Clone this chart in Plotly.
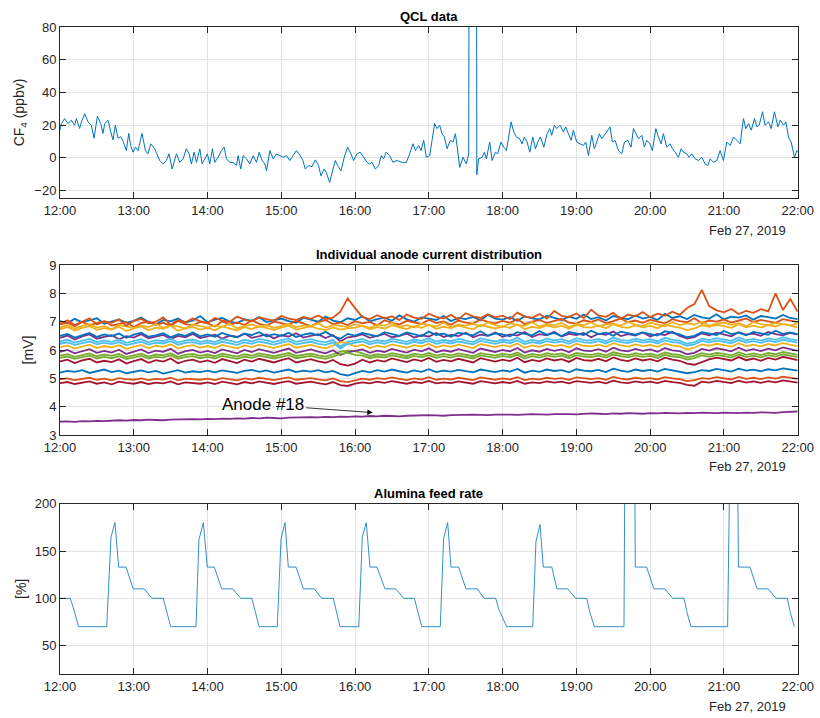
import pandas as pd
import plotly.graph_objects as go

# ---------------- data ----------------
T0 = pd.Timestamp("2019-02-27 12:00")

# QCL CF4 (minutes after 12:00, ppbv)
QCL_MIN = [0, 1.1, 3.8, 6.5, 9.2, 11.9, 13.3, 16.0, 17.4, 20.1, 22.8, 25.5, 27.7, 30.4, 33.1, 35.0, 36.4, 39.1, 41.2, 43.1,
           45.0, 47.2, 49.4, 51.5, 54.0, 55.9, 57.5, 59.4, 61.3, 63.5, 66.7, 69.5, 71.6, 73.8, 77.0, 79.2, 81.1, 83.8, 86.5, 88.7,
           91.2, 94.7, 97.4, 100.1, 102.8, 105.0, 106.9, 109.1, 111.0, 113.7, 115.6, 117.7, 119.9, 121.8, 124.0, 125.9, 128.6, 131.3, 133.5, 135.4,
           138.1, 140.8, 143.5, 144.9, 147.0, 149.0, 151.7, 154.4, 157.1, 159.8, 162.0, 164.4, 166.6, 168.0, 170.7, 173.4, 176.1, 178.8, 181.5, 184.2,
           186.9, 189.6, 192.3, 195.4, 197.6, 199.5, 202.2, 204.9, 207.6, 210.3, 212.2, 214.9, 216.6, 219.3, 221.2, 223.9, 225.8, 228.5, 231.2, 233.9,
           236.6, 238.8, 241.5, 244.2, 247.0, 249.7, 251.8, 253.7, 256.4, 259.2, 261.3, 263.2, 265.4, 268.1, 270.8, 274.1, 278.1, 281.7, 284.4, 287.1,
           289.0, 291.7, 293.6, 295.8, 298.0, 300.7, 302.6, 304.7, 306.6, 308.8, 310.7, 312.6, 314.8, 317.5, 319.7, 321.6, 322.9, 325.1, 327.8, 330.5,
           332.4, 333.2, 338.6, 339.0, 340.5, 343.3, 345.2, 346.8, 349.5, 351.4, 354.1, 356.0, 358.7, 360.9, 363.1, 365.0, 366.9, 369.0, 371.2, 373.9,
           375.8, 377.7, 379.9, 382.1, 384.5, 386.7, 388.6, 390.7, 393.5, 396.2, 398.3, 399.9, 402.1, 404.0, 406.7, 409.4, 411.3, 413.5, 415.7, 417.5,
           420.3, 423.0, 425.7, 427.6, 429.8, 432.5, 434.6, 436.5, 438.7, 440.6, 442.8, 444.7, 447.4, 449.3, 451.5, 454.2, 456.9, 459.1, 461.8, 464.5,
           466.4, 468.3, 470.5, 473.2, 475.3, 477.2, 479.9, 481.8, 484.6, 486.7, 488.9, 490.8, 493.5, 496.2, 498.1, 500.3, 503.0, 505.2, 507.1, 509.8,
           511.7, 513.9, 516.6, 519.3, 522.0, 524.7, 526.9, 528.8, 531.5, 534.2, 536.9, 539.6, 542.3, 545.1, 547.8, 550.5, 553.2, 555.9, 557.8, 560.0,
           562.2, 564.9, 566.8, 568.7, 571.4, 573.5, 576.3, 578.4, 581.1, 583.9, 585.8, 588.5, 590.4, 592.5, 594.7, 597.4, 599.3, 600]
QCL_PPBV = [17, 21, 24, 21, 23, 20, 24, 18, 22, 27, 22, 20, 12, 25.5, 21, 15, 21, 23, 16, 11,
            20, 12, 13, 10, 4.5, 15, 7.6, 3.5, 6.6, 4.5, 15, 4.5, 2.5, 8.6, 5.6, 1.4, -1.6, -3.7, -1.6, 2.5,
            -6.8, 2.5, -2.7, -0.6, 5.6, 2.5, -3.7, 3.5, -2.7, 5.6, -3.7, -0.6, 2.5, -3.7, 5.6, -2.7, 0.4, 4.5, 6.6, -0.6,
            -2.7, -2.7, -4.7, 1.4, -6.8, 1.4, -0.6, -3.7, 1.4, -2.7, 3.5, -1.6, -3.7, -7.8, 4.5, -0.6, 2.5, 1.4, 0.4, 1.4,
            -1.6, 1.4, 4.5, 1.4, -1.6, -6.8, -4.7, -5.4, -1.2, -4.7, -10.9, -6.8, -8.9, -15, -9.9, -1.6, -4.7, -7.8, 0.4, 6.6,
            2.5, -1.6, 2.5, 3.5, 0.4, -2.7, -3.7, -2.7, -6.8, -4.7, 1.4, -0.6, 3.5, 1.4, -2.7, -1.6, -2.7, -2.7, 2.5, 8.6,
            4.5, 7.6, 4.5, 10.7, 0.4, 1.4, 10.7, 21, 17.9, 20, 14.8, 12.8, 5.6, 10.7, 9.7, 14.8, 7.6, -5.8, 0.4, -3.7,
            2.5, 300, 300, -10.3, -0.6, 0.4, 3.5, -0.6, 9.7, -1.6, 3.5, 2.5, 9.7, 6.6, 4.5, 12.8, 22, 15.9, 12.8, 11.7,
            8.6, 12.8, 9.7, 3.5, 12.8, 5.6, 9.7, 12.8, 6.6, 14.8, 17.9, 13.8, 20, 17.9, 20, 15.9, 19, 14.8, 10.7, 16.9,
            9.7, 8.6, 7.6, 9.7, 1.4, 13.8, 5.6, 9.7, 14.8, 11.7, 13.8, 15.9, 19, 9.7, 10.7, 4.5, 2.5, 9.7, 10.7, 6.6,
            17.9, 14.8, 11.7, 13.8, 6.6, 10.7, 8.6, 4.5, 17.9, 12.8, 8.6, 14.8, 6.6, 8.6, 5.6, 3.5, 0.4, 5.6, 3.5, 2.5,
            0.4, 2.5, -0.6, -1.6, 0.4, -3.7, -4.7, -0.6, -2.7, -1.6, 4.5, -1.6, 9.7, 7.6, 12.8, 10.7, 8.6, 24, 17.9, 21,
            16.9, 24, 19, 20, 28.2, 20, 22, 17.9, 28.2, 19, 23, 20, 22, 12.8, 9.7, 0.4, 4.5, 3.5]

# Anode currents, hundredths of mV, one value every 6 minutes from 12:00
ANODE_01 = [702, 695, 710, 698, 705, 712, 693, 700, 708, 696, 703, 715, 699, 690, 706, 701, 711, 697, 704, 720,
            698, 707, 713, 700, 694, 709, 703, 716, 699, 705, 711, 702, 696, 714, 707, 700, 718, 704, 698, 712,
            706, 719, 701, 709, 714, 703, 722, 708, 700, 715, 711, 706, 720, 702, 713, 709, 717, 705, 724, 711,
            707, 716, 703, 719, 712, 708, 721, 714, 706, 718, 710, 725, 709, 716, 704, 720, 713, 708, 722, 711,
            717, 706, 728, 713, 719, 709, 724, 715, 711, 726, 708, 718, 714, 722, 707, 720, 716, 711, 724, 713, 709]
ANODE_02 = [690, 697, 684, 699, 688, 694, 702, 686, 693, 698, 681, 695, 700, 689, 696, 685, 703, 691, 687, 699,
            694, 683, 701, 690, 697, 688, 705, 692, 686, 700, 695, 689, 703, 693, 684, 698, 706, 691, 697, 688,
            702, 694, 699, 687, 705, 696, 690, 703, 698, 692, 707, 695, 701, 689, 704, 697, 693, 708, 699, 694,
            703, 696, 709, 691, 700, 706, 695, 702, 710, 697, 693, 705, 699, 708, 694, 702, 711, 698, 704, 696,
            707, 700, 694, 709, 702, 698, 712, 695, 704, 700, 708, 697, 703, 711, 699, 706, 701, 696, 709, 703, 698]
ANODE_03 = [680, 688, 676, 685, 691, 679, 684, 673, 689, 682, 677, 687, 681, 692, 678, 686, 683, 675, 690, 684,
            679, 687, 682, 693, 676, 685, 690, 681, 688, 678, 684, 692, 680, 687, 683, 694, 679, 688, 685, 681,
            691, 684, 678, 689, 686, 695, 682, 688, 680, 693, 687, 683, 696, 681, 690, 686, 692, 684, 697, 688,
            682, 694, 689, 685, 698, 683, 691, 687, 695, 680, 692, 688, 697, 684, 690, 693, 686, 699, 689, 685,
            696, 691, 684, 698, 688, 694, 690, 700, 686, 693, 697, 689, 695, 684, 699, 691, 688, 696, 692, 687, 694]
ANODE_04 = [643, 651, 637, 648, 655, 640, 646, 652, 638, 649, 644, 656, 641, 647, 653, 639, 650, 645, 657, 642,
            648, 654, 640, 651, 646, 658, 643, 649, 655, 641, 652, 647, 659, 644, 650, 656, 642, 653, 630, 645,
            648, 655, 643, 651, 657, 645, 650, 658, 644, 652, 647, 660, 646, 653, 649, 661, 645, 654, 650, 662,
            647, 655, 651, 663, 646, 656, 652, 664, 648, 657, 653, 660, 645, 658, 654, 665, 649, 656, 651, 662,
            648, 657, 653, 664, 650, 640, 645, 659, 652, 661, 655, 648, 663, 654, 658, 650, 664, 656, 652, 660, 655]
ANODE_05 = [580, 585, 576, 583, 588, 578, 584, 579, 586, 575, 582, 587, 577, 584, 581, 589, 576, 583, 586, 579,
            584, 578, 587, 582, 577, 585, 580, 588, 583, 578, 584, 590, 579, 583, 587, 581, 577, 585, 594, 598,
            596, 588, 579, 585, 581, 589, 584, 579, 587, 582, 590, 580, 586, 581, 588, 583, 578, 589, 585, 580,
            587, 582, 591, 578, 586, 581, 589, 584, 588, 579, 590, 585, 583, 588, 581, 592, 586, 582, 589, 584,
            587, 580, 591, 585, 583, 574, 579, 589, 584, 590, 586, 581, 592, 583, 588, 582, 590, 585, 593, 587, 583]
ANODE_06 = [630, 636, 626, 633, 639, 628, 634, 629, 637, 625, 632, 638, 627, 635, 631, 640, 626, 633, 637, 629,
            634, 628, 638, 632, 627, 636, 630, 639, 633, 628, 635, 641, 629, 634, 638, 631, 627, 636, 612, 630,
            633, 639, 628, 635, 630, 640, 634, 629, 637, 632, 642, 630, 636, 631, 639, 633, 628, 641, 635, 630,
            637, 632, 643, 629, 636, 631, 640, 634, 638, 630, 642, 635, 633, 639, 631, 644, 636, 632, 640, 634,
            638, 631, 643, 636, 633, 622, 628, 640, 635, 642, 637, 632, 644, 634, 639, 633, 641, 636, 645, 638, 634]
ANODE_07 = [560, 566, 554, 563, 569, 556, 562, 557, 567, 552, 561, 568, 555, 564, 559, 570, 553, 562, 566, 557,
            563, 555, 568, 561, 554, 566, 559, 569, 562, 556, 564, 571, 556, 563, 568, 560, 555, 565, 550, 545,
            552, 566, 556, 564, 559, 570, 563, 557, 567, 561, 572, 558, 565, 560, 569, 562, 556, 571, 564, 559,
            566, 561, 573, 557, 565, 560, 570, 563, 568, 558, 572, 564, 562, 569, 560, 574, 565, 561, 570, 563,
            568, 560, 573, 566, 562, 552, 548, 558, 567, 573, 569, 563, 575, 564, 570, 562, 572, 566, 576, 569, 564]
ANODE_08 = [520, 526, 523, 529, 519, 525, 531, 522, 527, 518, 524, 528, 521, 526, 517, 523, 529, 520, 525, 522,
            527, 521, 528, 524, 519, 526, 530, 523, 528, 520, 525, 531, 522, 527, 524, 529, 521, 526, 515, 510,
            518, 526, 521, 529, 524, 531, 525, 520, 528, 523, 532, 522, 527, 524, 530, 525, 521, 531, 526, 522,
            528, 524, 533, 520, 527, 523, 531, 526, 529, 521, 532, 527, 525, 530, 522, 534, 527, 523, 531, 526,
            530, 524, 533, 528, 525, 518, 522, 529, 526, 533, 529, 524, 534, 527, 531, 525, 532, 528, 535, 530, 527]
ANODE_09 = [496, 500, 494, 498, 502, 495, 499, 493, 501, 497, 495, 500, 494, 498, 496, 502, 493, 499, 497, 495,
            499, 494, 501, 497, 493, 500, 496, 502, 498, 494, 499, 503, 495, 498, 501, 496, 493, 500, 490, 487,
            494, 499, 495, 501, 497, 503, 498, 494, 500, 496, 504, 495, 499, 496, 502, 497, 494, 503, 499, 495,
            500, 496, 504, 494, 499, 496, 502, 498, 501, 495, 503, 499, 497, 501, 495, 505, 499, 496, 502, 498,
            501, 496, 504, 500, 497, 490, 494, 501, 498, 504, 500, 496, 505, 498, 502, 497, 503, 499, 506, 501, 498]
ANODE_10 = [610, 616, 605, 613, 619, 607, 614, 609, 617, 604, 612, 618, 606, 615, 611, 620, 605, 613, 617, 608,
            614, 607, 618, 612, 606, 616, 610, 619, 613, 607, 615, 621, 608, 614, 618, 611, 606, 616, 628, 625,
            612, 619, 607, 615, 610, 620, 614, 608, 617, 612, 622, 609, 616, 611, 619, 613, 607, 621, 615, 610,
            617, 612, 623, 608, 616, 611, 620, 614, 618, 609, 622, 615, 613, 619, 611, 624, 616, 612, 620, 614,
            618, 611, 623, 616, 613, 602, 608, 620, 615, 622, 617, 612, 624, 614, 619, 613, 621, 616, 625, 618, 614]
ANODE_11 = [593, 600, 588, 596, 603, 590, 597, 591, 601, 586, 595, 602, 589, 598, 594, 604, 587, 596, 600, 591,
            597, 589, 602, 595, 588, 600, 593, 603, 596, 590, 598, 605, 590, 597, 602, 594, 588, 599, 582, 592,
            596, 602, 590, 598, 593, 604, 597, 591, 601, 595, 606, 592, 599, 594, 603, 596, 590, 605, 598, 593,
            600, 595, 607, 591, 599, 594, 604, 597, 602, 592, 606, 598, 596, 603, 594, 608, 599, 595, 604, 597,
            602, 594, 607, 599, 596, 585, 590, 604, 598, 606, 601, 595, 608, 597, 603, 596, 605, 599, 609, 602, 597]
ANODE_12 = [572, 577, 569, 575, 580, 570, 576, 571, 578, 568, 574, 579, 570, 576, 573, 581, 569, 575, 578, 571,
            576, 570, 579, 574, 569, 577, 572, 580, 575, 570, 576, 582, 571, 575, 579, 573, 569, 577, 586, 590,
            583, 580, 571, 577, 573, 581, 576, 571, 579, 574, 582, 572, 578, 573, 580, 575, 570, 581, 577, 572,
            579, 574, 583, 570, 578, 573, 581, 576, 580, 571, 582, 577, 575, 580, 573, 584, 578, 574, 581, 576,
            579, 572, 583, 577, 575, 566, 571, 581, 576, 582, 578, 573, 584, 575, 580, 574, 582, 577, 585, 579, 575]
ANODE_13 = [622, 627, 618, 625, 630, 620, 626, 621, 628, 617, 624, 629, 619, 626, 623, 631, 618, 625, 628, 621,
            626, 620, 629, 623, 618, 627, 622, 630, 624, 619, 626, 632, 620, 625, 629, 622, 618, 627, 605, 622,
            625, 630, 620, 627, 622, 631, 626, 621, 629, 624, 633, 622, 628, 623, 630, 625, 620, 632, 627, 622,
            629, 624, 634, 621, 628, 623, 631, 626, 630, 622, 633, 627, 625, 631, 623, 635, 628, 624, 632, 626,
            630, 623, 634, 628, 625, 615, 620, 632, 627, 633, 629, 624, 635, 626, 631, 625, 633, 628, 636, 630, 626]
ANODE_14 = [483, 487, 480, 485, 489, 481, 486, 479, 488, 484, 481, 487, 480, 485, 482, 489, 479, 486, 483, 481,
            486, 480, 488, 484, 479, 487, 482, 489, 485, 480, 486, 490, 481, 485, 488, 483, 479, 487, 476, 473,
            481, 486, 482, 488, 484, 490, 485, 481, 487, 483, 491, 482, 486, 483, 489, 484, 481, 490, 486, 482,
            487, 483, 491, 481, 486, 483, 489, 485, 488, 482, 490, 486, 484, 488, 482, 492, 486, 483, 489, 485,
            488, 483, 491, 487, 484, 477, 474, 488, 485, 491, 487, 483, 492, 485, 489, 484, 490, 486, 493, 488, 485]
ANODE_15 = [650, 657, 644, 653, 660, 646, 655, 649, 658, 643, 654, 661, 647, 652, 659, 645, 656, 650, 662, 648,
            655, 647, 660, 651, 645, 658, 653, 663, 648, 656, 650, 661, 646, 654, 659, 652, 664, 649, 640, 657,
            651, 660, 654, 648, 663, 657, 650, 662, 655, 649, 665, 653, 658, 647, 661, 656, 652, 666, 650, 659,
            655, 648, 663, 657, 652, 667, 654, 660, 649, 664, 658, 653, 668, 656, 661, 650, 665, 659, 654, 662,
            657, 651, 666, 660, 655, 645, 650, 663, 658, 653, 667, 656, 661, 652, 664, 659, 654, 668, 657, 662, 655]
ANODE_16 = [693, 705, 688, 699, 712, 690, 701, 696, 708, 685, 703, 710, 694, 700, 715, 689, 706, 698, 711, 702,
            696, 713, 704, 699, 718, 707, 701, 715, 709, 703, 720, 711, 706, 717, 710, 722, 708, 714, 735, 782,
            748, 716, 709, 723, 712, 719, 706, 725, 714, 710, 728, 717, 711, 724, 708, 730, 719, 713, 726, 715,
            721, 709, 732, 718, 714, 727, 711, 738, 720, 716, 729, 713, 742, 722, 717, 731, 710, 725, 719, 734,
            716, 728, 721, 735, 724, 748, 762, 812, 755, 740, 733, 745, 727, 738, 731, 744, 736, 800, 741, 780, 735]
ANODE_17 = [674, 681, 669, 678, 684, 671, 677, 672, 682, 667, 676, 683, 670, 679, 675, 685, 668, 677, 681, 672,
            678, 670, 683, 676, 669, 681, 674, 684, 677, 671, 679, 686, 672, 678, 683, 675, 670, 680, 672, 676,
            679, 685, 673, 681, 676, 687, 680, 674, 684, 678, 689, 675, 682, 677, 686, 679, 673, 688, 681, 676,
            683, 678, 690, 674, 682, 677, 687, 680, 685, 675, 689, 681, 679, 686, 677, 691, 682, 678, 687, 680,
            685, 677, 690, 683, 679, 670, 676, 688, 682, 689, 684, 678, 691, 680, 686, 679, 688, 683, 692, 685, 680]
ANODE_18 = [347, 348, 346, 349, 348, 350, 349, 351, 352, 351, 353, 352, 354, 353, 352, 354, 355, 354, 356, 355,
            357, 356, 358, 357, 359, 358, 360, 359, 361, 360, 359, 361, 362, 361, 363, 362, 364, 363, 365, 364,
            366, 365, 367, 366, 368, 367, 366, 368, 369, 368, 370, 369, 368, 370, 371, 370, 372, 371, 370, 372,
            373, 372, 371, 373, 374, 373, 372, 374, 375, 374, 373, 375, 376, 375, 374, 376, 375, 377, 376, 375,
            377, 376, 378, 377, 376, 378, 377, 379, 378, 377, 379, 378, 377, 379, 378, 380, 379, 378, 381, 382, 383]
ANODES = [ANODE_01, ANODE_02, ANODE_03, ANODE_04, ANODE_05, ANODE_06, ANODE_07, ANODE_08, ANODE_09,
          ANODE_10, ANODE_11, ANODE_12, ANODE_13, ANODE_14, ANODE_15, ANODE_16, ANODE_17, ANODE_18]

# Alumina feed rate (minutes after 12:00, %)
FEED_MIN = [0, 8.4, 12, 15, 38, 41.5, 44.7, 47.7, 53.7, 59.6, 68.6, 74.8, 84, 86.7, 90,
            110.6, 113, 116.6, 119.8, 125.5, 131.5, 140.5, 147, 156, 159, 162,
            176.7, 179.8, 183, 185.7, 192, 198, 206.8, 212.8, 222.3, 225, 227.7,
            243, 245.9, 249.1, 252.1, 257.8, 264.3, 273, 279.5, 288.2, 291, 294.2,
            309.3, 312, 315.3, 318, 324.2, 330.2, 339.4, 345, 354.4, 357, 363.3,
            384.5, 387.1, 390.4, 393.1, 400, 404.2, 412.9, 419.4, 428.4, 431, 434.6,
            458.7, 459.5, 467.4, 467.9, 477.1, 483, 492, 498.3, 507.5, 510, 513.2,
            543, 545, 551, 551.8, 561.2, 567, 576, 582.4, 591.6, 594, 597.3]
FEED_PCT = [100, 100, 85, 70, 70, 165, 180, 133, 133, 110, 110, 100, 100, 85, 70,
            70, 162, 180, 133, 133, 110, 110, 100, 100, 85, 70,
            70, 163, 180, 133, 133, 110, 110, 100, 100, 85, 70,
            70, 165, 180, 133, 133, 110, 110, 100, 100, 85, 70,
            70, 163, 180, 133, 133, 110, 110, 100, 100, 88, 70,
            70, 160, 178, 133, 133, 110, 110, 100, 100, 85, 70,
            70, 260, 260, 133, 133, 110, 110, 100, 100, 85, 70,
            70, 260, 260, 133, 133, 110, 110, 100, 100, 85, 70]

MATLAB_COLORS = ["#0072BD", "#D95319", "#EDB120", "#7E2F8E", "#77AC30", "#4DBEEE", "#A2142F"]


def tm(mins):
    return [T0 + pd.Timedelta(minutes=float(m)) for m in mins]


# ---------------- figure ----------------
W, H = 820, 718
FONT = "Liberation Sans, Arial, Helvetica, sans-serif"
AX = "#262626"

fig = go.Figure()

fig.add_trace(go.Scatter(x=tm(QCL_MIN), y=QCL_PPBV, mode="lines",
                         line=dict(color="#0072BD", width=1), xaxis="x", yaxis="y"))

for i, vals in enumerate(ANODES):
    fig.add_trace(go.Scatter(x=tm([6 * k for k in range(len(vals))]), y=[v / 100 for v in vals],
                             mode="lines", line=dict(color=MATLAB_COLORS[i % 7], width=1.8),
                             xaxis="x2", yaxis="y2"))

fig.add_trace(go.Scatter(x=tm(FEED_MIN), y=FEED_PCT, mode="lines",
                         line=dict(color="#0072BD", width=0.8), xaxis="x3", yaxis="y3"))

XD = [60 / W, 797.7 / W]
doms = [[1 - 198 / H, 1 - 27 / H], [1 - 435 / H, 1 - 265 / H], [1 - 674 / H, 1 - 503.7 / H]]
xr = [T0, T0 + pd.Timedelta(hours=10)]

common = dict(showline=True, linecolor=AX, linewidth=1, mirror="ticks", ticks="inside",
              ticklen=6, tickcolor=AX, tickwidth=1, showgrid=True, gridcolor="#e3e3e3",
              gridwidth=1, zeroline=False, tickfont=dict(family=FONT, size=13, color=AX))

layout = dict(width=W, height=H, margin=dict(l=0, r=0, t=0, b=0, autoexpand=False), showlegend=False,
              plot_bgcolor="white", paper_bgcolor="white", font=dict(family=FONT, color=AX))

ynames = ["yaxis", "yaxis2", "yaxis3"]
xnames = ["xaxis", "xaxis2", "xaxis3"]
yanch = ["y", "y2", "y3"]
xanch = ["x", "x2", "x3"]
yspecs = [dict(range=[-24.5, 80], tickvals=[-20, 0, 20, 40, 60, 80],
               title=dict(text="CF<sub>4</sub> (ppbv)", standoff=6, font=dict(size=14, family=FONT, color=AX))),
          dict(range=[3, 9], tickvals=[3, 4, 5, 6, 7, 8, 9],
               title=dict(text="[mV]", standoff=12, font=dict(size=14, family=FONT, color=AX))),
          dict(range=[20, 200], tickvals=[50, 100, 150, 200],
               title=dict(text="[%]", standoff=4, font=dict(size=14, family=FONT, color=AX)))]
for k in range(3):
    layout[xnames[k]] = dict(common, domain=XD, anchor=yanch[k], range=xr, type="date",
                             dtick=3600000, tick0=T0, tickformat="%H:%M", automargin=False)
    layout[ynames[k]] = dict(common, domain=doms[k], anchor=xanch[k], automargin=False, **yspecs[k])

titles = ["QCL data", "Individual anode current distribution", "Alumina feed rate"]
date_y = [230, 467, 706]
ann = []
for k in range(3):
    ann.append(dict(text="<b>%s</b>" % titles[k], xref="paper", yref="paper",
                    x=(XD[0] + XD[1]) / 2, y=doms[k][1], xanchor="center", yanchor="bottom",
                    yshift=1, showarrow=False, font=dict(size=13, family=FONT, color="black")))
    ann.append(dict(text="Feb 27, 2019", xref="paper", yref="paper", x=788 / W, y=1 - date_y[k] / H,
                    xanchor="right", yanchor="middle", showarrow=False,
                    font=dict(size=13, family=FONT, color=AX)))

ann.append(dict(text="Anode #18", xref="x2", yref="y2", axref="x2", ayref="y2",
                x=tm([254.5])[0], y=3.79, ax=tm([165.5])[0], ay=4.07,
                showarrow=True, arrowhead=2, arrowsize=1.4, arrowwidth=0.8, arrowcolor="black",
                standoff=0, startstandoff=0, font=dict(size=17, family=FONT, color="black")))
layout["annotations"] = ann

fig.update_layout(**layout)
fig.write_html("out.html")
